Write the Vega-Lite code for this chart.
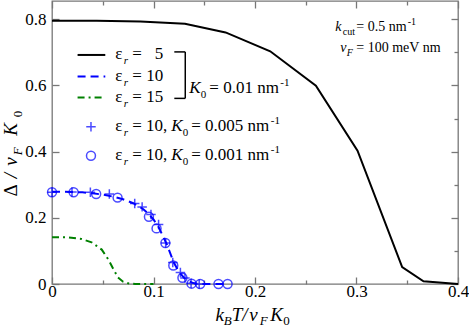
{
  "$schema": "https://vega.github.io/schema/vega-lite/v6.json",
  "width": 406,
  "height": 283,
  "autosize": "none",
  "padding": {"left": 52, "top": 1, "right": 11, "bottom": 44},
  "config": {
    "view": {"stroke": "#777777", "strokeWidth": 1.3},
    "font": "Liberation Serif",
    "text": {"font": "Liberation Serif"},
    "axis": {"domain": false, "grid": false, "tickColor": "#777777", "tickWidth": 1.3, "labelFont": "Liberation Serif", "labelFontSize": 17, "labelColor": "#000000", "labelFlush": false, "labelOverlap": false}
  },
  "data": {"values": [{}]},
  "datasets": {
    "curves": [
      {"s": "e5", "x": 0.0, "y": 0.795}, {"s": "e5", "x": 0.044, "y": 0.795}, {"s": "e5", "x": 0.087, "y": 0.793}, {"s": "e5", "x": 0.131, "y": 0.786}, {"s": "e5", "x": 0.171, "y": 0.76}, {"s": "e5", "x": 0.215, "y": 0.703}, {"s": "e5", "x": 0.26, "y": 0.599}, {"s": "e5", "x": 0.301, "y": 0.403}, {"s": "e5", "x": 0.345, "y": 0.051}, {"s": "e5", "x": 0.366, "y": 0.008}, {"s": "e5", "x": 0.4, "y": 0.0},
      {"s": "e10", "x": 0.0, "y": 0.279}, {"s": "e10", "x": 0.01, "y": 0.279}, {"s": "e10", "x": 0.02, "y": 0.278}, {"s": "e10", "x": 0.03, "y": 0.277}, {"s": "e10", "x": 0.04, "y": 0.274}, {"s": "e10", "x": 0.05, "y": 0.27}, {"s": "e10", "x": 0.06, "y": 0.264}, {"s": "e10", "x": 0.07, "y": 0.256}, {"s": "e10", "x": 0.08, "y": 0.244}, {"s": "e10", "x": 0.09, "y": 0.226}, {"s": "e10", "x": 0.095, "y": 0.212}, {"s": "e10", "x": 0.1, "y": 0.195}, {"s": "e10", "x": 0.105, "y": 0.172}, {"s": "e10", "x": 0.11, "y": 0.14}, {"s": "e10", "x": 0.1125, "y": 0.124}, {"s": "e10", "x": 0.115, "y": 0.105}, {"s": "e10", "x": 0.12, "y": 0.065}, {"s": "e10", "x": 0.125, "y": 0.037}, {"s": "e10", "x": 0.13, "y": 0.019}, {"s": "e10", "x": 0.135, "y": 0.008}, {"s": "e10", "x": 0.14, "y": 0.002}, {"s": "e10", "x": 0.145, "y": 0.0}, {"s": "e10", "x": 0.17, "y": 0.0},
      {"s": "e15", "x": 0.0, "y": 0.141}, {"s": "e15", "x": 0.016, "y": 0.141}, {"s": "e15", "x": 0.029, "y": 0.136}, {"s": "e15", "x": 0.039, "y": 0.126}, {"s": "e15", "x": 0.049, "y": 0.104}, {"s": "e15", "x": 0.0555, "y": 0.074}, {"s": "e15", "x": 0.0605, "y": 0.045}, {"s": "e15", "x": 0.065, "y": 0.02}, {"s": "e15", "x": 0.07, "y": 0.007}, {"s": "e15", "x": 0.075, "y": 0.002}, {"s": "e15", "x": 0.082, "y": 0.0}, {"s": "e15", "x": 0.1, "y": 0.0}
    ],
    "points": [
      {"s": "plus", "x": 0.0, "y": 0.277}, {"s": "plus", "x": 0.0197, "y": 0.278}, {"s": "plus", "x": 0.0378, "y": 0.277}, {"s": "plus", "x": 0.0565, "y": 0.272}, {"s": "plus", "x": 0.0815, "y": 0.243}, {"s": "plus", "x": 0.0888, "y": 0.233}, {"s": "plus", "x": 0.0975, "y": 0.21}, {"s": "plus", "x": 0.105, "y": 0.18}, {"s": "plus", "x": 0.112, "y": 0.124}, {"s": "plus", "x": 0.119, "y": 0.065}, {"s": "plus", "x": 0.1265, "y": 0.035}, {"s": "plus", "x": 0.131, "y": 0.018}, {"s": "plus", "x": 0.137, "y": 0.002}, {"s": "plus", "x": 0.145, "y": 0.0},
      {"s": "circ", "x": 0.0, "y": 0.277}, {"s": "circ", "x": 0.0213, "y": 0.277}, {"s": "circ", "x": 0.0435, "y": 0.272}, {"s": "circ", "x": 0.0646, "y": 0.261}, {"s": "circ", "x": 0.0955, "y": 0.203}, {"s": "circ", "x": 0.103, "y": 0.168}, {"s": "circ", "x": 0.1117, "y": 0.124}, {"s": "circ", "x": 0.1195, "y": 0.056}, {"s": "circ", "x": 0.1285, "y": 0.019}, {"s": "circ", "x": 0.1375, "y": 0.001}, {"s": "circ", "x": 0.146, "y": 0.0}, {"s": "circ", "x": 0.164, "y": 0.0}, {"s": "circ", "x": 0.173, "y": 0.0}
    ]
  },
  "layer": [
    {
      "layer": [
        {
          "data": {"name": "curves"},
          "transform": [{"filter": "datum.s == 'e5'"}],
          "mark": {"type": "line", "color": "#000000", "strokeWidth": 2},
          "encoding": {
            "x": {"field": "x", "type": "quantitative", "scale": {"domain": [0, 0.4], "nice": false},
                  "axis": {"title": null, "orient": "bottom", "values": [0, 0.05, 0.1, 0.15, 0.2, 0.25, 0.3, 0.35, 0.4], "tickSize": {"condition": {"test": "round(datum.value*20)%2==1", "value": -4}, "value": -7}, "labelPadding": 6, "labelExpr": "round(datum.value*20)%2==1 ? '' : (datum.value==0 ? '0' : format(datum.value, '.1f'))"}},
            "y": {"field": "y", "type": "quantitative", "scale": {"domain": [0, 0.855], "nice": false},
                  "axis": {"title": null, "orient": "left", "values": [0, 0.1, 0.2, 0.3, 0.4, 0.5, 0.6, 0.7, 0.8], "tickSize": {"condition": {"test": "round(datum.value*10)%2==1", "value": -4}, "value": -7}, "labelPadding": 13, "labelExpr": "round(datum.value*10)%2==1 ? '' : (datum.value==0 ? '0' : format(datum.value, '.1f'))"}}
          }
        },
        {
          "data": {"name": "curves"},
          "transform": [{"filter": "datum.s == 'e10'"}],
          "mark": {"type": "line", "color": "#0000ff", "strokeWidth": 2, "strokeDash": [8, 5]},
          "encoding": {"x": {"field": "x", "type": "quantitative", "title": null}, "y": {"field": "y", "type": "quantitative", "title": null}}
        },
        {
          "data": {"name": "curves"},
          "transform": [{"filter": "datum.s == 'e15'"}],
          "mark": {"type": "line", "color": "#008000", "strokeWidth": 2, "strokeDash": [7, 4, 2, 4]},
          "encoding": {"x": {"field": "x", "type": "quantitative", "title": null}, "y": {"field": "y", "type": "quantitative", "title": null}}
        },
        {
          "data": {"name": "points"},
          "transform": [{"filter": "datum.s == 'plus'"}],
          "mark": {"type": "point", "shape": "M-1,0L1,0M0,-1L0,1", "filled": false, "color": "#0000ff", "strokeWidth": 1.5, "size": 90},
          "encoding": {"x": {"field": "x", "type": "quantitative", "title": null}, "y": {"field": "y", "type": "quantitative", "title": null}}
        },
        {
          "data": {"name": "points"},
          "transform": [{"filter": "datum.s == 'circ'"}],
          "mark": {"type": "point", "shape": "circle", "filled": false, "color": "#0000ff", "strokeWidth": 1.5, "size": 80},
          "encoding": {"x": {"field": "x", "type": "quantitative", "title": null}, "y": {"field": "y", "type": "quantitative", "title": null}}
        },
        {"mark": {"type": "rule", "color": "#000000", "strokeWidth": 2}, "encoding": {"x": {"datum": 0.0252, "type": "quantitative", "title": null}, "x2": {"datum": 0.0525}, "y": {"datum": 0.692, "type": "quantitative", "title": null}}},
        {"mark": {"type": "rule", "color": "#0000ff", "strokeWidth": 2, "strokeDash": [8, 5]}, "encoding": {"x": {"datum": 0.0252, "type": "quantitative", "title": null}, "x2": {"datum": 0.0525}, "y": {"datum": 0.6272, "type": "quantitative", "title": null}}},
        {"mark": {"type": "rule", "color": "#008000", "strokeWidth": 2, "strokeDash": [7, 4, 2, 4]}, "encoding": {"x": {"datum": 0.0252, "type": "quantitative", "title": null}, "x2": {"datum": 0.0525}, "y": {"datum": 0.5638, "type": "quantitative", "title": null}}},
        {"mark": {"type": "point", "shape": "M-1,0L1,0M0,-1L0,1", "filled": false, "color": "#0000ff", "strokeWidth": 1.5, "size": 90}, "encoding": {"x": {"datum": 0.0384, "type": "quantitative", "title": null}, "y": {"datum": 0.4748, "type": "quantitative", "title": null}}},
        {"mark": {"type": "point", "shape": "circle", "filled": false, "color": "#0000ff", "strokeWidth": 1.5, "size": 80}, "encoding": {"x": {"datum": 0.0384, "type": "quantitative", "title": null}, "y": {"datum": 0.3873, "type": "quantitative", "title": null}}},
        {"mark": {"type": "rule", "color": "#000000", "strokeWidth": 1.5}, "encoding": {"x": {"datum": 0.1205, "type": "quantitative", "title": null}, "x2": {"datum": 0.1313}, "y": {"datum": 0.7012, "type": "quantitative", "title": null}}},
        {"mark": {"type": "rule", "color": "#000000", "strokeWidth": 1.5}, "encoding": {"x": {"datum": 0.1205, "type": "quantitative", "title": null}, "x2": {"datum": 0.1313}, "y": {"datum": 0.5608, "type": "quantitative", "title": null}}},
        {"mark": {"type": "rule", "color": "#000000", "strokeWidth": 1.5}, "encoding": {"x": {"datum": 0.1313, "type": "quantitative", "title": null}, "y": {"datum": 0.5608, "type": "quantitative", "title": null}, "y2": {"datum": 0.7012}}},

        {"mark": {"type": "text", "text": "ε", "align": "left", "baseline": "alphabetic", "fontSize": 17}, "encoding": {"x": {"datum": 0.0624, "type": "quantitative", "title": null}, "y": {"datum": 0.6785, "type": "quantitative", "title": null}}},
        {"mark": {"type": "text", "text": "r", "align": "left", "baseline": "alphabetic", "fontSize": 11, "fontStyle": "italic", "dy": 5}, "encoding": {"x": {"datum": 0.0707, "type": "quantitative", "title": null}, "y": {"datum": 0.6785, "type": "quantitative", "title": null}}},
        {"mark": {"type": "text", "text": "=", "align": "left", "baseline": "alphabetic", "fontSize": 17}, "encoding": {"x": {"datum": 0.0791, "type": "quantitative", "title": null}, "y": {"datum": 0.6785, "type": "quantitative", "title": null}}},
        {"mark": {"type": "text", "text": "5", "align": "right", "baseline": "alphabetic", "fontSize": 17}, "encoding": {"x": {"datum": 0.1097, "type": "quantitative", "title": null}, "y": {"datum": 0.6785, "type": "quantitative", "title": null}}},

        {"mark": {"type": "text", "text": "ε", "align": "left", "baseline": "alphabetic", "fontSize": 17}, "encoding": {"x": {"datum": 0.0624, "type": "quantitative", "title": null}, "y": {"datum": 0.6136, "type": "quantitative", "title": null}}},
        {"mark": {"type": "text", "text": "r", "align": "left", "baseline": "alphabetic", "fontSize": 11, "fontStyle": "italic", "dy": 5}, "encoding": {"x": {"datum": 0.0707, "type": "quantitative", "title": null}, "y": {"datum": 0.6136, "type": "quantitative", "title": null}}},
        {"mark": {"type": "text", "text": "=", "align": "left", "baseline": "alphabetic", "fontSize": 17}, "encoding": {"x": {"datum": 0.0791, "type": "quantitative", "title": null}, "y": {"datum": 0.6136, "type": "quantitative", "title": null}}},
        {"mark": {"type": "text", "text": "10", "align": "right", "baseline": "alphabetic", "fontSize": 17}, "encoding": {"x": {"datum": 0.1097, "type": "quantitative", "title": null}, "y": {"datum": 0.6136, "type": "quantitative", "title": null}}},

        {"mark": {"type": "text", "text": "ε", "align": "left", "baseline": "alphabetic", "fontSize": 17}, "encoding": {"x": {"datum": 0.0624, "type": "quantitative", "title": null}, "y": {"datum": 0.5503, "type": "quantitative", "title": null}}},
        {"mark": {"type": "text", "text": "r", "align": "left", "baseline": "alphabetic", "fontSize": 11, "fontStyle": "italic", "dy": 5}, "encoding": {"x": {"datum": 0.0707, "type": "quantitative", "title": null}, "y": {"datum": 0.5503, "type": "quantitative", "title": null}}},
        {"mark": {"type": "text", "text": "=", "align": "left", "baseline": "alphabetic", "fontSize": 17}, "encoding": {"x": {"datum": 0.0791, "type": "quantitative", "title": null}, "y": {"datum": 0.5503, "type": "quantitative", "title": null}}},
        {"mark": {"type": "text", "text": "15", "align": "right", "baseline": "alphabetic", "fontSize": 17}, "encoding": {"x": {"datum": 0.1097, "type": "quantitative", "title": null}, "y": {"datum": 0.5503, "type": "quantitative", "title": null}}},

        {"mark": {"type": "text", "text": "K", "align": "left", "baseline": "alphabetic", "fontSize": 17, "fontStyle": "italic"}, "encoding": {"x": {"datum": 0.1353, "type": "quantitative", "title": null}, "y": {"datum": 0.5774, "type": "quantitative", "title": null}}},
        {"mark": {"type": "text", "text": "0", "align": "left", "baseline": "alphabetic", "fontSize": 11, "dy": 5}, "encoding": {"x": {"datum": 0.1466, "type": "quantitative", "title": null}, "y": {"datum": 0.5774, "type": "quantitative", "title": null}}},
        {"mark": {"type": "text", "text": "= 0.01 nm", "align": "left", "baseline": "alphabetic", "fontSize": 17}, "encoding": {"x": {"datum": 0.155, "type": "quantitative", "title": null}, "y": {"datum": 0.5774, "type": "quantitative", "title": null}}},
        {"mark": {"type": "text", "text": "-1", "align": "left", "baseline": "alphabetic", "fontSize": 11, "dy": -7}, "encoding": {"x": {"datum": 0.2249, "type": "quantitative", "title": null}, "y": {"datum": 0.5774, "type": "quantitative", "title": null}}},

        {"mark": {"type": "text", "text": "ε", "align": "left", "baseline": "alphabetic", "fontSize": 17}, "encoding": {"x": {"datum": 0.0624, "type": "quantitative", "title": null}, "y": {"datum": 0.4612, "type": "quantitative", "title": null}}},
        {"mark": {"type": "text", "text": "r", "align": "left", "baseline": "alphabetic", "fontSize": 11, "fontStyle": "italic", "dy": 5}, "encoding": {"x": {"datum": 0.0707, "type": "quantitative", "title": null}, "y": {"datum": 0.4612, "type": "quantitative", "title": null}}},
        {"mark": {"type": "text", "text": "= 10,", "align": "left", "baseline": "alphabetic", "fontSize": 17}, "encoding": {"x": {"datum": 0.0791, "type": "quantitative", "title": null}, "y": {"datum": 0.4612, "type": "quantitative", "title": null}}},
        {"mark": {"type": "text", "text": "K", "align": "left", "baseline": "alphabetic", "fontSize": 17, "fontStyle": "italic"}, "encoding": {"x": {"datum": 0.1175, "type": "quantitative", "title": null}, "y": {"datum": 0.4612, "type": "quantitative", "title": null}}},
        {"mark": {"type": "text", "text": "0", "align": "left", "baseline": "alphabetic", "fontSize": 11, "dy": 5}, "encoding": {"x": {"datum": 0.1289, "type": "quantitative", "title": null}, "y": {"datum": 0.4612, "type": "quantitative", "title": null}}},
        {"mark": {"type": "text", "text": "= 0.005 nm", "align": "left", "baseline": "alphabetic", "fontSize": 17}, "encoding": {"x": {"datum": 0.1372, "type": "quantitative", "title": null}, "y": {"datum": 0.4612, "type": "quantitative", "title": null}}},
        {"mark": {"type": "text", "text": "-1", "align": "left", "baseline": "alphabetic", "fontSize": 11, "dy": -7}, "encoding": {"x": {"datum": 0.2156, "type": "quantitative", "title": null}, "y": {"datum": 0.4612, "type": "quantitative", "title": null}}},

        {"mark": {"type": "text", "text": "ε", "align": "left", "baseline": "alphabetic", "fontSize": 17}, "encoding": {"x": {"datum": 0.0624, "type": "quantitative", "title": null}, "y": {"datum": 0.3737, "type": "quantitative", "title": null}}},
        {"mark": {"type": "text", "text": "r", "align": "left", "baseline": "alphabetic", "fontSize": 11, "fontStyle": "italic", "dy": 5}, "encoding": {"x": {"datum": 0.0707, "type": "quantitative", "title": null}, "y": {"datum": 0.3737, "type": "quantitative", "title": null}}},
        {"mark": {"type": "text", "text": "= 10,", "align": "left", "baseline": "alphabetic", "fontSize": 17}, "encoding": {"x": {"datum": 0.0791, "type": "quantitative", "title": null}, "y": {"datum": 0.3737, "type": "quantitative", "title": null}}},
        {"mark": {"type": "text", "text": "K", "align": "left", "baseline": "alphabetic", "fontSize": 17, "fontStyle": "italic"}, "encoding": {"x": {"datum": 0.1175, "type": "quantitative", "title": null}, "y": {"datum": 0.3737, "type": "quantitative", "title": null}}},
        {"mark": {"type": "text", "text": "0", "align": "left", "baseline": "alphabetic", "fontSize": 11, "dy": 5}, "encoding": {"x": {"datum": 0.1289, "type": "quantitative", "title": null}, "y": {"datum": 0.3737, "type": "quantitative", "title": null}}},
        {"mark": {"type": "text", "text": "= 0.001 nm", "align": "left", "baseline": "alphabetic", "fontSize": 17}, "encoding": {"x": {"datum": 0.1372, "type": "quantitative", "title": null}, "y": {"datum": 0.3737, "type": "quantitative", "title": null}}},
        {"mark": {"type": "text", "text": "-1", "align": "left", "baseline": "alphabetic", "fontSize": 11, "dy": -7}, "encoding": {"x": {"datum": 0.2156, "type": "quantitative", "title": null}, "y": {"datum": 0.3737, "type": "quantitative", "title": null}}},

        {"mark": {"type": "text", "text": "k", "align": "left", "baseline": "alphabetic", "fontSize": 14, "fontStyle": "italic"}, "encoding": {"x": {"datum": 0.2791, "type": "quantitative", "title": null}, "y": {"datum": 0.763, "type": "quantitative", "title": null}}},
        {"mark": {"type": "text", "text": "cut", "align": "left", "baseline": "alphabetic", "fontSize": 10, "dy": 4}, "encoding": {"x": {"datum": 0.2865, "type": "quantitative", "title": null}, "y": {"datum": 0.763, "type": "quantitative", "title": null}}},
        {"mark": {"type": "text", "text": "= 0.5 nm", "align": "left", "baseline": "alphabetic", "fontSize": 14}, "encoding": {"x": {"datum": 0.2998, "type": "quantitative", "title": null}, "y": {"datum": 0.763, "type": "quantitative", "title": null}}},
        {"mark": {"type": "text", "text": "-1", "align": "left", "baseline": "alphabetic", "fontSize": 10, "dy": -6}, "encoding": {"x": {"datum": 0.3505, "type": "quantitative", "title": null}, "y": {"datum": 0.763, "type": "quantitative", "title": null}}},
        {"mark": {"type": "text", "text": "v", "align": "left", "baseline": "alphabetic", "fontSize": 14, "fontStyle": "italic"}, "encoding": {"x": {"datum": 0.284, "type": "quantitative", "title": null}, "y": {"datum": 0.7012, "type": "quantitative", "title": null}}},
        {"mark": {"type": "text", "text": "F", "align": "left", "baseline": "alphabetic", "fontSize": 10, "fontStyle": "italic", "dy": 4}, "encoding": {"x": {"datum": 0.2904, "type": "quantitative", "title": null}, "y": {"datum": 0.7012, "type": "quantitative", "title": null}}},
        {"mark": {"type": "text", "text": "= 100 meV nm", "align": "left", "baseline": "alphabetic", "fontSize": 14}, "encoding": {"x": {"datum": 0.2998, "type": "quantitative", "title": null}, "y": {"datum": 0.7012, "type": "quantitative", "title": null}}},

        {"mark": {"type": "text", "text": "k", "align": "left", "baseline": "alphabetic", "fontSize": 19, "fontStyle": "italic"}, "encoding": {"x": {"datum": 0.161, "type": "quantitative", "title": null}, "y": {"datum": -0.1123, "type": "quantitative", "title": null}}},
        {"mark": {"type": "text", "text": "B", "align": "left", "baseline": "alphabetic", "fontSize": 13, "fontStyle": "italic", "dy": 4}, "encoding": {"x": {"datum": 0.1693, "type": "quantitative", "title": null}, "y": {"datum": -0.1123, "type": "quantitative", "title": null}}},
        {"mark": {"type": "text", "text": "T", "align": "left", "baseline": "alphabetic", "fontSize": 19, "fontStyle": "italic"}, "encoding": {"x": {"datum": 0.1771, "type": "quantitative", "title": null}, "y": {"datum": -0.1123, "type": "quantitative", "title": null}}},
        {"mark": {"type": "text", "text": "/", "align": "left", "baseline": "alphabetic", "fontSize": 19, "fontStyle": "italic"}, "encoding": {"x": {"datum": 0.1875, "type": "quantitative", "title": null}, "y": {"datum": -0.1123, "type": "quantitative", "title": null}}},
        {"mark": {"type": "text", "text": "v", "align": "left", "baseline": "alphabetic", "fontSize": 19, "fontStyle": "italic"}, "encoding": {"x": {"datum": 0.1944, "type": "quantitative", "title": null}, "y": {"datum": -0.1123, "type": "quantitative", "title": null}}},
        {"mark": {"type": "text", "text": "F", "align": "left", "baseline": "alphabetic", "fontSize": 13, "fontStyle": "italic", "dy": 4}, "encoding": {"x": {"datum": 0.2047, "type": "quantitative", "title": null}, "y": {"datum": -0.1123, "type": "quantitative", "title": null}}},
        {"mark": {"type": "text", "text": "K", "align": "left", "baseline": "alphabetic", "fontSize": 19, "fontStyle": "italic"}, "encoding": {"x": {"datum": 0.2151, "type": "quantitative", "title": null}, "y": {"datum": -0.1123, "type": "quantitative", "title": null}}},
        {"mark": {"type": "text", "text": "0", "align": "left", "baseline": "alphabetic", "fontSize": 13, "dy": 4}, "encoding": {"x": {"datum": 0.2279, "type": "quantitative", "title": null}, "y": {"datum": -0.1123, "type": "quantitative", "title": null}}},

        {"mark": {"type": "text", "text": "Δ", "angle": 270, "align": "left", "baseline": "alphabetic", "fontSize": 19}, "encoding": {"x": {"datum": -0.0342, "type": "quantitative", "title": null}, "y": {"datum": 0.2644, "type": "quantitative", "title": null}}},
        {"mark": {"type": "text", "text": "/", "angle": 270, "align": "left", "baseline": "alphabetic", "fontSize": 19, "fontStyle": "italic"}, "encoding": {"x": {"datum": -0.0342, "type": "quantitative", "title": null}, "y": {"datum": 0.3193, "type": "quantitative", "title": null}}},
        {"mark": {"type": "text", "text": "v", "angle": 270, "align": "left", "baseline": "alphabetic", "fontSize": 19, "fontStyle": "italic"}, "encoding": {"x": {"datum": -0.0342, "type": "quantitative", "title": null}, "y": {"datum": 0.3571, "type": "quantitative", "title": null}}},
        {"mark": {"type": "text", "text": "F", "angle": 270, "align": "left", "baseline": "alphabetic", "fontSize": 13, "fontStyle": "italic"}, "encoding": {"x": {"datum": -0.0298, "type": "quantitative", "title": null}, "y": {"datum": 0.3888, "type": "quantitative", "title": null}}},
        {"mark": {"type": "text", "text": "K", "angle": 270, "align": "left", "baseline": "alphabetic", "fontSize": 19, "fontStyle": "italic"}, "encoding": {"x": {"datum": -0.0342, "type": "quantitative", "title": null}, "y": {"datum": 0.4477, "type": "quantitative", "title": null}}},
        {"mark": {"type": "text", "text": "0", "angle": 270, "align": "left", "baseline": "alphabetic", "fontSize": 13}, "encoding": {"x": {"datum": -0.0298, "type": "quantitative", "title": null}, "y": {"datum": 0.5035, "type": "quantitative", "title": null}}}
      ]
    },
    {
      "mark": {"type": "point", "opacity": 0},
      "encoding": {
        "x": {"datum": 0, "type": "quantitative",
              "axis": {"title": null, "orient": "top", "labels": false, "values": [0, 0.05, 0.1, 0.15, 0.2, 0.25, 0.3, 0.35, 0.4], "tickSize": {"condition": {"test": "round(datum.value*20)%2==1", "value": -4}, "value": -7}}},
        "y": {"datum": 0, "type": "quantitative",
              "axis": {"title": null, "orient": "right", "labels": false, "values": [0, 0.1, 0.2, 0.3, 0.4, 0.5, 0.6, 0.7, 0.8], "tickSize": {"condition": {"test": "round(datum.value*10)%2==1", "value": -4}, "value": -7}}}
      }
    }
  ],
  "resolve": {"axis": {"x": "independent", "y": "independent"}}
}
